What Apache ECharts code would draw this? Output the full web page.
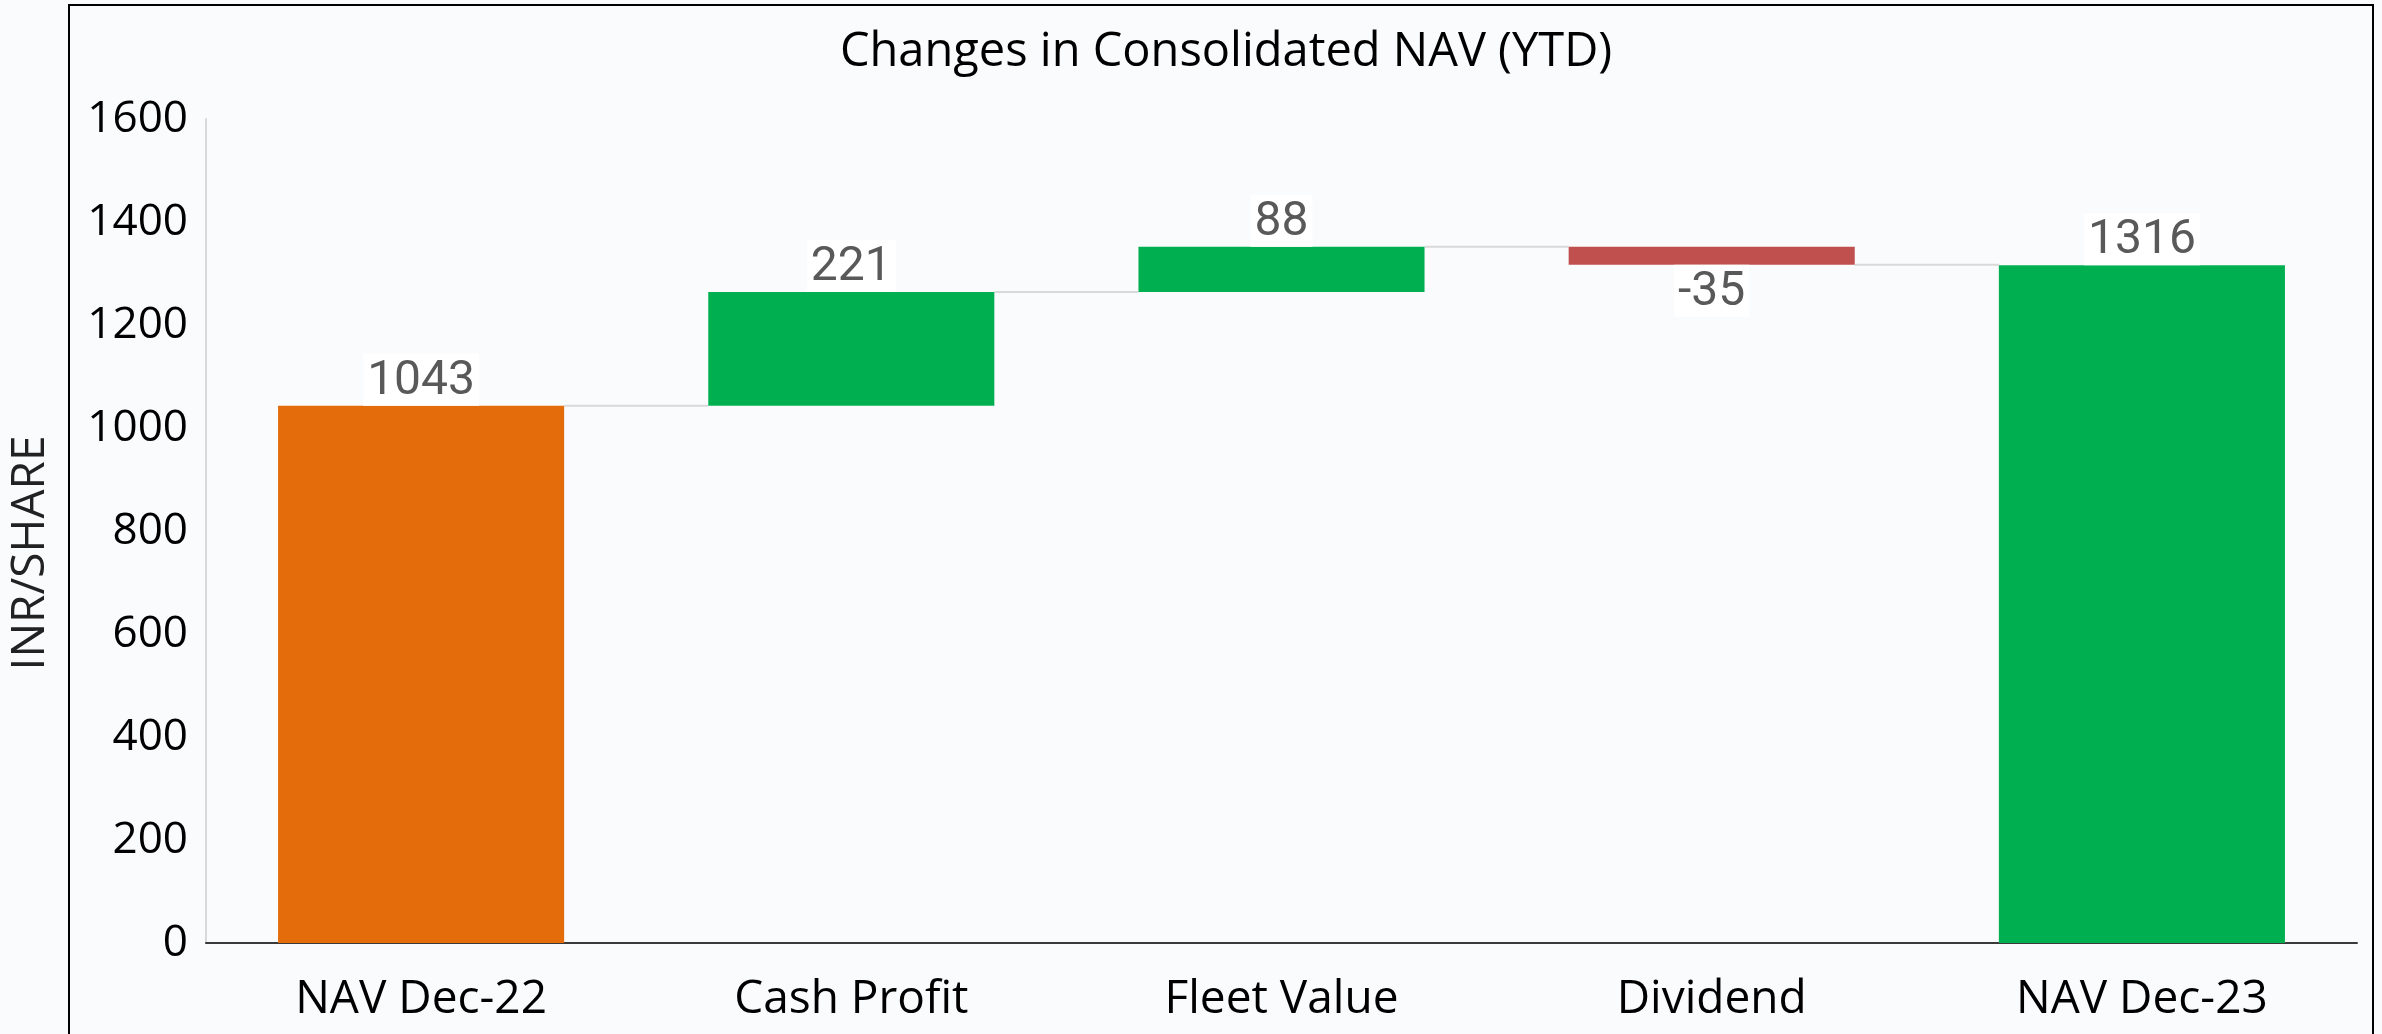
<!DOCTYPE html>
<html>
<head>
<meta charset="utf-8">
<script src="https://cdn.jsdelivr.net/npm/echarts@6/dist/echarts.min.js"></script>
<style>
html, body { margin: 0; padding: 0; background: #FAFBFD; }
#chart { width: 2382px; height: 1034px; }
</style>
</head>
<body>
<div id="chart"></div>
<script>
// waterfall data
var categories = ['NAV Dec-22', 'Cash Profit', 'Fleet Value', 'Dividend', 'NAV Dec-23'];
var changes = [1043, 221, 88, -35, 1316];
var isTotal = [true, false, false, false, true];
var barColors = ['#E46C0A', '#00B050', '#00B050', '#C0504D', '#00B050'];
var yMin = 0, yMax = 1600, yStep = 200;

var barPct = 0.665;

// base (invisible) + visible part, and connector levels
var baseData = [], barData = [], connectors = [];
var running = 0;
for (var i = 0; i < changes.length; i++) {
    var v = changes[i];
    var base, h;
    if (isTotal[i]) {
        base = 0; h = v; running = v;
    } else if (v >= 0) {
        base = running; h = v; running += v;
    } else {
        base = running + v; h = -v; running += v;
    }
    baseData.push(base);
    barData.push({
        value: h,
        itemStyle: { color: barColors[i] },
        label: { position: v < 0 ? 'bottom' : 'top' }
    });
    if (i < changes.length - 1) connectors.push([i, running]);
}

var myChart = echarts.init(document.getElementById('chart'));
var option = {
    backgroundColor: '#FAFBFD',
    animation: false,
    title: {
        text: 'Changes in Consolidated NAV (YTD)',
        left: 1221,
        textAlign: 'center',
        top: 24,
        textStyle: { fontFamily: 'Open Sans', fontWeight: 'normal', fontSize: 47, color: '#000' }
    },
    graphic: [{
        type: 'rect',
        silent: true,
        shape: { x: 69, y: 5, width: 2304, height: 1200 },
        style: { fill: null, stroke: '#000', lineWidth: 2 }
    }],
    grid: { left: 205, right: 25, top: 119, bottom: 91 },
    xAxis: {
        type: 'category',
        data: categories,
        axisLine: { lineStyle: { color: '#3a3a3a', width: 2 } },
        axisTick: { show: false },
        axisLabel: { fontFamily: 'Open Sans', fontSize: 46, color: '#000', margin: 34 }
    },
    yAxis: {
        type: 'value',
        min: yMin,
        max: yMax,
        interval: yStep,
        name: 'INR/SHARE',
        nameLocation: 'middle',
        nameGap: 152,
        nameTextStyle: { fontFamily: 'Open Sans', fontSize: 46, color: '#222', padding: [0, 44, 0, 0] },
        axisLine: { show: true, lineStyle: { color: '#d9d9d9', width: 2 } },
        axisTick: { show: false },
        splitLine: { show: false },
        axisLabel: {
            fontFamily: 'Open Sans', fontSize: 44, color: '#000', margin: 18,
            formatter: function (val) { return String(val); }
        }
    },
    series: [
        {
            name: 'base',
            type: 'bar',
            stack: 'wf',
            barWidth: (barPct * 100) + '%',
            itemStyle: { color: 'transparent' },
            emphasis: { disabled: true },
            data: baseData
        },
        {
            name: 'change',
            type: 'bar',
            stack: 'wf',
            barWidth: (barPct * 100) + '%',
            data: barData,
            z: 3,
            label: {
                show: true,
                distance: 0,
                fontFamily: 'Roboto',
                fontSize: 48,
                color: '#595959',
                backgroundColor: '#fff',
                padding: [4, 4, 0, 4],
                formatter: function (p) { return String(changes[p.dataIndex]); }
            }
        },
        {
            name: 'connectors',
            type: 'custom',
            z: 1,
            data: connectors,
            renderItem: function (params, api) {
                var pt = api.coord([api.value(0), api.value(1)]);
                var band = api.size([1, 0])[0];
                var bw = band * barPct;
                return {
                    type: 'line',
                    shape: { x1: pt[0] + bw / 2, y1: pt[1], x2: pt[0] + band - bw / 2, y2: pt[1] },
                    style: { stroke: '#d9d9d9', lineWidth: 2 }
                };
            }
        }
    ]
};
myChart.setOption(option);
</script>
</body>
</html>
